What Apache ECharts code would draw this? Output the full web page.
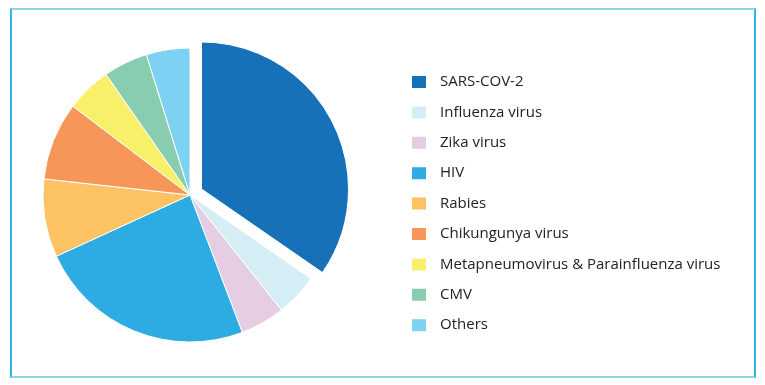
<!DOCTYPE html>
<html><head><meta charset="utf-8">
<script src="https://cdn.jsdelivr.net/npm/echarts@6/dist/echarts.min.js"></script>
<style>html,body{margin:0;padding:0;background:#fff}#c{width:765px;height:385px;position:relative}
#frame{position:absolute;left:10px;top:8px;width:742px;height:366px;border:2px solid #8fd4eb;border-left-color:#2fb6e9;border-right-color:#2fb6e9;pointer-events:none}</style>
</head><body>
<div id="c"></div><div id="frame"></div>
<script>
const categories = ["SARS-COV-2","Influenza virus","Zika virus","HIV","Rabies","Chikungunya virus","Metapneumovirus & Parainfluenza virus","CMV","Others"];
const values = [34.7, 4.7, 4.9, 24.0, 8.6, 8.6, 5.0, 4.9, 4.8];
const colors = ["#1771b8","#d5edf5","#e5cde3","#2cace2","#fdc262","#f69759","#f9f06a","#88cdb0","#7dd1f3"];
const chart = echarts.init(document.getElementById('c'), null, {renderer:'canvas'});
chart.setOption({
  animation:false,
  color: colors,
  legend: {
    orient:'vertical', left:410, top:74, padding:0,
    itemWidth:16, itemHeight:14, itemGap:14.4,
    icon:'rect',
    textStyle:{fontFamily:'Open Sans', fontSize:15, lineHeight:13, color:'#222', padding:[0,0,0,8]},
    data: categories, selectedMode:false
  },
  series:[{
    type:'pie', center:[190,195], radius:[0,147], startAngle:90, clockwise:true,
    label:{show:false}, labelLine:{show:false},
    selectedMode:'single', selectedOffset:13,
    itemStyle:{borderColor:'#fff', borderWidth:1},
    emphasis:{disabled:true},
    data: categories.map((n,i)=>({name:n, value:values[i], selected:i===0}))
  }]
});
</script></body></html>
